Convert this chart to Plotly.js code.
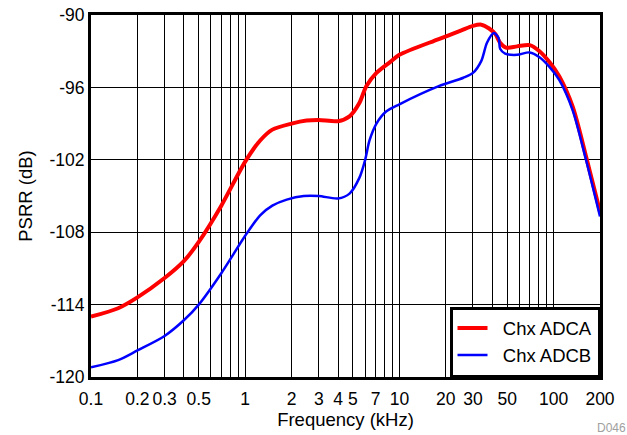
<!DOCTYPE html>
<html>
<head>
<meta charset="utf-8">
<script src="https://cdn.plot.ly/plotly-3.0.1.min.js"></script>
<style>html,body{margin:0;padding:0;background:#fff;}#chart{width:627px;height:435px;}</style>
</head>
<body>
<div id="chart"></div>
<script>
// Frequency (kHz) and PSRR (dB)
const freqA = [0.1,0.15,0.2,0.3,0.4,0.5,0.7,1.0,1.25,1.5,2.0,2.5,3.0,4.0,4.75,5.5,6.1,7.1,8.7,10,18,25,30,34,38,42,45,49,58,70,81,94,109,133,163,200];
const psrrA = [-115.0,-114.3,-113.4,-111.8,-110.4,-108.8,-105.8,-102.15,-100.4,-99.5,-99.0,-98.75,-98.7,-98.8,-98.4,-97.3,-95.9,-94.8,-93.9,-93.3,-92.0,-91.3,-90.9,-90.8,-91.1,-91.6,-92.3,-92.7,-92.6,-92.5,-93.0,-93.9,-95.1,-97.6,-101.8,-106.3];
const freqB = [0.1,0.15,0.2,0.3,0.4,0.5,0.7,1.0,1.25,1.5,1.86,2.4,3.0,4.0,4.75,5.5,6.0,6.4,7.1,8.2,10,18,26,30,34,37,41,44,45,48.5,58,70,81,94,109,133,163,200];
const psrrB = [-119.2,-118.6,-117.8,-116.6,-115.3,-114.0,-111.4,-108.3,-106.6,-105.8,-105.3,-105.0,-105.0,-105.2,-104.8,-103.5,-102.0,-100.4,-99.0,-98.0,-97.4,-95.9,-95.2,-94.8,-93.8,-92.3,-91.5,-91.9,-92.8,-93.2,-93.3,-93.1,-93.5,-94.3,-95.4,-97.9,-102.1,-106.7];
const seriesNames = ['Chx ADCA','Chx ADCB'];
const xTickVals = [0.1,0.2,0.3,0.5,1,2,3,4,5,7,10,20,30,50,100,200];
const xTickText = ['0.1','0.2','0.3','0.5','1','2','3','4','5','7','10','20','30','50','100','200'];
const xMinorVals = [0.4,0.6,0.7,0.8,0.9,6,8,9,40,60,70,80,90];
const yTickVals = [-120,-114,-108,-102,-96,-90];
const yTickText = ['-120','-114','-108','-102','-96','-90'];

const font = 'Liberation Sans, Arial, sans-serif';
const pad = '\u00a0\u00a0';
const traces = [
  {x: freqA, y: psrrA, name: pad + seriesNames[0], mode: 'lines', line: {color: '#ff0000', width: 4, shape: 'spline', smoothing: 0.8}},
  {x: freqB, y: psrrB, name: pad + seriesNames[1], mode: 'lines', line: {color: '#0000ff', width: 2.5, shape: 'spline', smoothing: 0.8}}
];
const layout = {
  width: 627, height: 435,
  margin: {l: 91, r: 27, t: 15, b: 58},
  paper_bgcolor: '#fff', plot_bgcolor: '#fff',
  font: {family: font, color: '#000', size: 16},
  showlegend: true,
  legend: {x: 1, xanchor: 'right', y: 0, yanchor: 'bottom', bgcolor: '#fff', bordercolor: '#000', borderwidth: 2.5,
           font: {family: font, size: 18.5, color: '#000'}, tracegroupgap: 0, itemwidth: 30},
  xaxis: {
    type: 'log', range: [Math.log10(0.1), Math.log10(200)],
    tickmode: 'array', tickvals: xTickVals, ticktext: xTickText,
    ticks: '', showgrid: true, gridcolor: '#000', gridwidth: 1, ticklabelstandoff: 4,
    minor: {tickmode: 'array', tickvals: xMinorVals, showgrid: true, gridcolor: '#000', gridwidth: 1, ticks: ''},
    showline: true, linecolor: '#000', linewidth: 3, mirror: true,
    tickfont: {family: font, size: 17.5, color: '#000'},
    title: {text: 'Frequency (kHz)', font: {family: font, size: 18.5, color: '#000'}, standoff: 0},
    zeroline: false
  },
  yaxis: {
    range: [-120, -90], tickmode: 'array', tickvals: yTickVals, ticktext: yTickText,
    ticks: '', showgrid: true, gridcolor: '#000', gridwidth: 1,
    showline: true, linecolor: '#000', linewidth: 3, mirror: true,
    tickfont: {family: font, size: 17.5, color: '#000'},
    title: {text: 'PSRR (dB)', font: {family: font, size: 18.5, color: '#000'}, standoff: 12},
    zeroline: false
  },
  annotations: [
    {text: 'D046', xref: 'paper', yref: 'paper', x: 1.055, y: -0.115, xanchor: 'right', yanchor: 'top', showarrow: false,
     font: {family: font, size: 12, color: '#a0a0a0'}}
  ]
};
Plotly.newPlot('chart', traces, layout, {staticPlot: true, displayModeBar: false});
</script>
</body>
</html>
